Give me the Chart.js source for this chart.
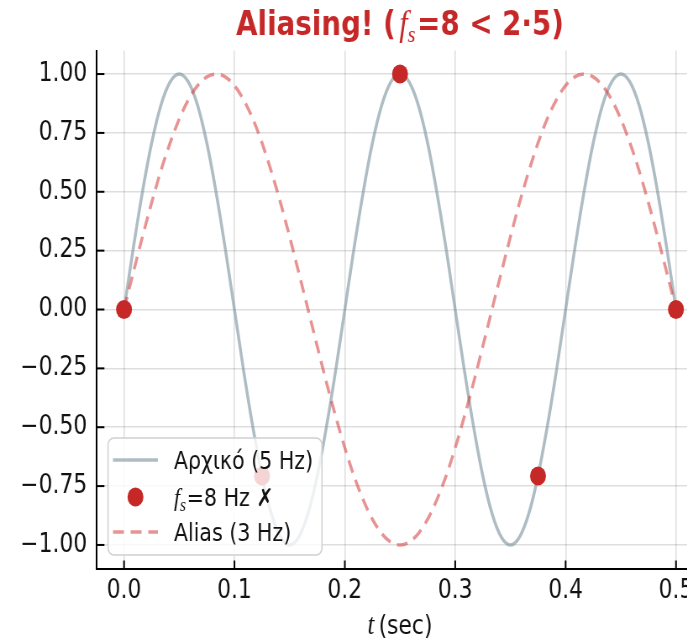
<!DOCTYPE html>
<html>
<head>
<meta charset="utf-8">
<script src="https://cdn.jsdelivr.net/npm/chart.js@4.4.1/dist/chart.umd.min.js"></script>
<style>
  html, body { margin: 0; padding: 0; background: #fff; overflow: hidden; }
  #wrap { width: 687px; height: 641px; overflow: hidden; position: relative; }
  #stage { position: absolute; left: 0; top: 0; width: 860px; height: 641px;
           transform: scaleX(0.84); transform-origin: 0 0; }
</style>
</head>
<body>
<div id="wrap"><div id="stage"><canvas id="c" width="860" height="641"></canvas></div></div>
<script>
// time axis (seconds)
const tSec = [0, 0.0083, 0.0167, 0.025, 0.0333, 0.0417, 0.05, 0.0583, 0.0667, 0.075,
  0.0833, 0.0917, 0.1, 0.1083, 0.1167, 0.125, 0.1333, 0.1417, 0.15, 0.1583,
  0.1667, 0.175, 0.1833, 0.1917, 0.2, 0.2083, 0.2167, 0.225, 0.2333, 0.2417,
  0.25, 0.2583, 0.2667, 0.275, 0.2833, 0.2917, 0.3, 0.3083, 0.3167, 0.325,
  0.3333, 0.3417, 0.35, 0.3583, 0.3667, 0.375, 0.3833, 0.3917, 0.4, 0.4083,
  0.4167, 0.425, 0.4333, 0.4417, 0.45, 0.4583, 0.4667, 0.475, 0.4833, 0.4917, 0.5];

// original signal, 5 Hz
const original5Hz = [0, 0.259, 0.5, 0.707, 0.866, 0.966, 1, 0.966, 0.866, 0.707, 0.5, 0.259, 0,
  -0.259, -0.5, -0.707, -0.866, -0.966, -1, -0.966, -0.866, -0.707, -0.5, -0.259, 0,
  0.259, 0.5, 0.707, 0.866, 0.966, 1, 0.966, 0.866, 0.707, 0.5, 0.259, 0,
  -0.259, -0.5, -0.707, -0.866, -0.966, -1, -0.966, -0.866, -0.707, -0.5, -0.259, 0,
  0.259, 0.5, 0.707, 0.866, 0.966, 1, 0.966, 0.866, 0.707, 0.5, 0.259, 0];

// alias, 3 Hz
const alias3Hz = [0, 0.156, 0.309, 0.454, 0.588, 0.707, 0.809, 0.891, 0.951, 0.988, 1,
  0.988, 0.951, 0.891, 0.809, 0.707, 0.588, 0.454, 0.309, 0.156, 0,
  -0.156, -0.309, -0.454, -0.588, -0.707, -0.809, -0.891, -0.951, -0.988, -1,
  -0.988, -0.951, -0.891, -0.809, -0.707, -0.588, -0.454, -0.309, -0.156, 0,
  0.156, 0.309, 0.454, 0.588, 0.707, 0.809, 0.891, 0.951, 0.988, 1,
  0.988, 0.951, 0.891, 0.809, 0.707, 0.588, 0.454, 0.309, 0.156, 0];

// samples taken at fs = 8 Hz
const sampleT = [0, 0.125, 0.25, 0.375, 0.5];
const sampleY = [0, -0.707, 1, -0.707, 0];

const xTicks = [0, 0.1, 0.2, 0.3, 0.4, 0.5];
const yTicks = [-1, -0.75, -0.5, -0.25, 0, 0.25, 0.5, 0.75, 1];

const RED = '#c62828';
const GREY_LINE = 'rgba(120,144,156,0.6)';
const ALIAS_LINE = 'rgba(214,58,58,0.55)';
const DASH = [13, 8];
const SERIF_IT = "'Liberation Serif', 'DejaVu Serif', serif";
const SANS = "'DejaVu Sans', sans-serif";

const toPts = (xs, ys) => xs.map((x, i) => ({ x: x, y: ys[i] }));

function drawRich(ctx, parts, x0, baseline, align) {
  let w = 0;
  parts.forEach(p => { ctx.font = p.font; p.w = ctx.measureText(p.text).width; w += p.w + (p.gap || 0); });
  let x = align === 'center' ? x0 - w / 2 : x0;
  parts.forEach(p => {
    ctx.font = p.font;
    ctx.fillText(p.text, x, baseline + (p.dy || 0));
    x += p.w + (p.gap || 0);
  });
}

const decor = {
  id: 'decor',
  afterDraw(chart) {
    const ctx = chart.ctx;
    const area = chart.chartArea;
    const xs = chart.scales.x, ys = chart.scales.y;
    ctx.save();

    // inward tick marks
    ctx.strokeStyle = '#000';
    ctx.lineWidth = 2;
    xTicks.forEach(v => {
      const px = xs.getPixelForValue(v);
      ctx.beginPath(); ctx.moveTo(px, area.bottom); ctx.lineTo(px, area.bottom - 8); ctx.stroke();
    });
    yTicks.forEach(v => {
      const py = ys.getPixelForValue(v);
      ctx.beginPath(); ctx.moveTo(area.left, py); ctx.lineTo(area.left + 9.5, py); ctx.stroke();
    });

    // title
    ctx.textBaseline = 'alphabetic';
    ctx.textAlign = 'left';
    ctx.fillStyle = RED;
    const cx = (area.left + area.right) / 2;
    drawRich(ctx, [
      { text: 'Aliasing! (', font: 'bold 33px ' + SANS, gap: 4 },
      { text: 'f', font: 'italic 36px ' + SERIF_IT },
      { text: 's', font: 'italic 24px ' + SERIF_IT, dy: 7, gap: 2 },
      { text: '=8 < 2\u00b75)', font: 'bold 33px ' + SANS }
    ], cx, 35, 'center');

    // x axis title
    ctx.fillStyle = '#111';
    drawRich(ctx, [
      { text: 't', font: 'italic 29px ' + SERIF_IT, gap: 5 },
      { text: '(sec)', font: '26px ' + SANS }
    ], cx, 634, 'center');

    // legend
    const L = 128.6, T = 438, R = 383.3, B = 555, rad = 7;
    ctx.beginPath();
    ctx.roundRect(L, T, R - L, B - T, rad);
    ctx.fillStyle = 'rgba(255,255,255,0.8)';
    ctx.fill();
    ctx.strokeStyle = '#cfcfcf';
    ctx.lineWidth = 1.5;
    ctx.stroke();

    const hx0 = 134.5, hx1 = 188, tx = 207;
    const rows = [460, 497, 532];
    ctx.lineWidth = 3.5;
    ctx.strokeStyle = GREY_LINE;
    ctx.beginPath(); ctx.moveTo(hx0, rows[0]); ctx.lineTo(hx1, rows[0]); ctx.stroke();
    ctx.fillStyle = RED;
    ctx.beginPath(); ctx.arc((hx0 + hx1) / 2, rows[1], 9.5, 0, Math.PI * 2); ctx.fill();
    ctx.strokeStyle = ALIAS_LINE;
    ctx.setLineDash(DASH);
    ctx.beginPath(); ctx.moveTo(hx0, rows[2]); ctx.lineTo(hx1, rows[2]); ctx.stroke();
    ctx.setLineDash([]);

    ctx.fillStyle = '#111';
    ctx.textBaseline = 'alphabetic';
    drawRich(ctx, [{ text: 'Αρχικό (5 Hz)', font: '24.5px ' + SANS }], tx, rows[0] + 9, 'left');
    drawRich(ctx, [
      { text: 'f', font: 'italic 26px ' + SERIF_IT },
      { text: 's', font: 'italic 18px ' + SERIF_IT, dy: 5, gap: 1 },
      { text: '=8 Hz \u2717', font: '24.5px ' + SANS }
    ], tx, rows[1] + 9, 'left');
    drawRich(ctx, [{ text: 'Alias (3 Hz)', font: '24.5px ' + SANS }], tx, rows[2] + 9, 'left');

    ctx.restore();
  }
};

const tickFont = { family: 'DejaVu Sans', size: 26 };
const gridStyle = { color: 'rgba(0,0,0,0.13)', lineWidth: 1.6, drawTicks: false };
const borderStyle = { display: true, color: '#000', width: 2 };

new Chart(document.getElementById('c'), {
  type: 'line',
  data: {
    datasets: [
      { label: 'fs = 8 Hz', data: toPts(sampleT, sampleY), showLine: false,
        pointRadius: 9.5, pointHoverRadius: 9.5, pointBackgroundColor: RED, pointBorderWidth: 0, order: 0 },
      { label: 'Alias (3 Hz)', data: toPts(tSec, alias3Hz), borderColor: ALIAS_LINE, borderWidth: 3.5,
        borderDash: DASH, pointRadius: 0, cubicInterpolationMode: 'monotone', fill: false, order: 1 },
      { label: 'Αρχικό (5 Hz)', data: toPts(tSec, original5Hz), borderColor: GREY_LINE, borderWidth: 3.5,
        pointRadius: 0, cubicInterpolationMode: 'monotone', fill: false, order: 2 }
    ]
  },
  options: {
    responsive: false,
    animation: false,
    devicePixelRatio: 1,
    events: [],
    layout: { padding: { left: 0, right: 22.4, top: 50.5, bottom: 0 } },
    plugins: { legend: { display: false }, title: { display: false }, tooltip: { enabled: false } },
    scales: {
      x: {
        type: 'linear', min: -0.025, max: 0.525,
        afterBuildTicks: s => { s.ticks = xTicks.map(v => ({ value: v })); },
        afterFit: s => { s.height = 72.5; },
        grid: gridStyle, border: borderStyle,
        ticks: { padding: 7, font: tickFont, color: '#111', autoSkip: false, maxRotation: 0,
                 callback: v => v.toFixed(1) }
      },
      y: {
        type: 'linear', min: -1.1, max: 1.1,
        afterBuildTicks: s => { s.ticks = yTicks.map(v => ({ value: v })); },
        afterFit: s => { s.width = 114.8; },
        grid: gridStyle, border: borderStyle,
        ticks: { padding: 11, font: tickFont, color: '#111',
                 callback: v => (v < 0 ? '\u2212' : '') + Math.abs(v).toFixed(2) }
      }
    }
  },
  plugins: [decor]
});
</script>
</body>
</html>
